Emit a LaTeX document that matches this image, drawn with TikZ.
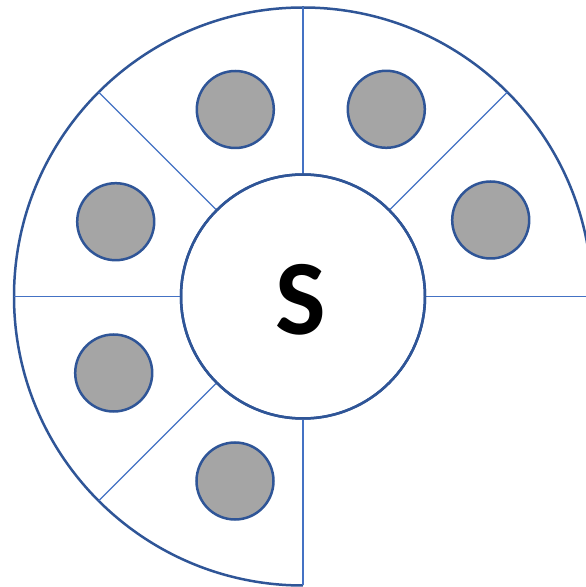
\documentclass[tikz,border=0pt]{standalone}
\usepackage{fontspec}
\setmainfont{Carlito}
\usetikzlibrary{calc}
\definecolor{rimblue}{HTML}{2F5597}
\definecolor{spokeblue}{HTML}{4472C4}
\definecolor{ballgray}{HTML}{A5A5A5}
\tikzset{
  rim/.style={draw=rimblue, line width=2.5pt},
  spoke/.style={draw=spokeblue, line width=1.3pt},
  ball/.style={circle, draw=rimblue, line width=2.5pt, fill=ballgray, minimum size=77pt, inner sep=0pt},
  hubstyle/.style={circle, draw=rimblue, line width=2.5pt, fill=white, minimum size=244pt, inner sep=0pt}
}
\begin{document}
\begin{tikzpicture}[x=1pt, y=1pt]
\useasboundingbox (0,0) rectangle (586,587);
\clip (0,0) rectangle (586,587);
\fill[white] (0,0) rectangle (586,587);
\coordinate (c) at (303,290.5);
% outer arc
\draw[rim] ($(c)+(0:289)$) arc[start angle=0, end angle=270, radius=289];
% outer ends of spokes
\foreach \a in {0,45,90,135,180,225,270} {
  \coordinate (o\a) at ($(c)+(\a:289)$);
}
\node[hubstyle] (hub) at (c) {};
\foreach \a in {0,45,90,135,180,225,270} {
  \draw[spoke] (hub.\a) -- (o\a);
}
\node[hubstyle, fill=none] (hubrim) at (c) {};
\node (label) at (300.5,287) {\fontsize{107}{107}\selectfont\bfseries S};
% balls
\node[ball] (b1) at (235.3,477.5) {};
\node[ball] (b2) at (386.3,477.7) {};
\node[ball] (b3) at (115.7,365.3) {};
\node[ball] (b4) at (490.7,367) {};
\node[ball] (b5) at (113.7,214) {};
\node[ball] (b6) at (235,106) {};
\end{tikzpicture}
\end{document}
